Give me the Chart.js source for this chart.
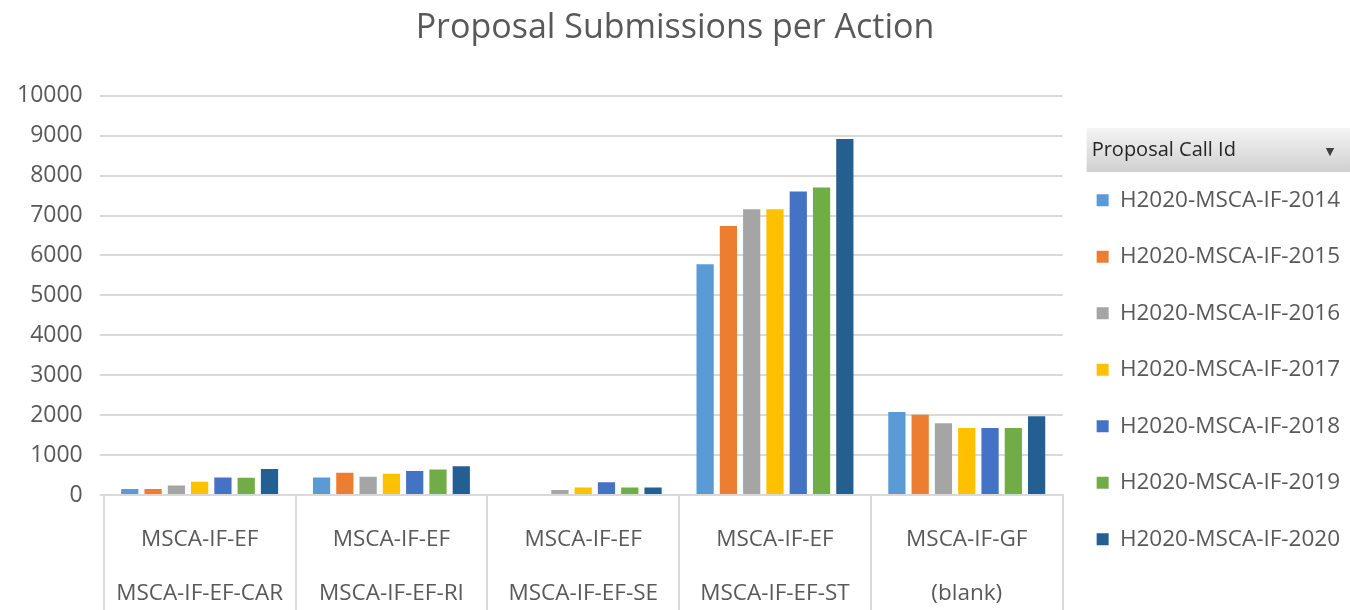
<!DOCTYPE html>
<html>
<head>
<meta charset="utf-8">
<script src="https://cdn.jsdelivr.net/npm/chart.js"></script>
<style>
  html, body { margin: 0; padding: 0; background: #ffffff; }
  #wrap { width: 1350px; height: 610px; position: relative; }
</style>
</head>
<body>
<div id="wrap"><canvas id="myChart"></canvas></div>
<script>
// categorias (dos lineas cada una)
const acciones = [
  ['MSCA-IF-EF', 'MSCA-IF-EF-CAR'],
  ['MSCA-IF-EF', 'MSCA-IF-EF-RI'],
  ['MSCA-IF-EF', 'MSCA-IF-EF-SE'],
  ['MSCA-IF-EF', 'MSCA-IF-EF-ST'],
  ['MSCA-IF-GF', '(blank)']
];

const convocatorias = [
  'H2020-MSCA-IF-2014', 'H2020-MSCA-IF-2015', 'H2020-MSCA-IF-2016',
  'H2020-MSCA-IF-2017', 'H2020-MSCA-IF-2018', 'H2020-MSCA-IF-2019',
  'H2020-MSCA-IF-2020'
];

// valores
const v2014 = [150, 440, 0, 5780, 2080];
const v2015 = [150, 560, 0, 6740, 2010];
const v2016 = [240, 460, 125, 7160, 1800];
const v2017 = [330, 530, 185, 7160, 1680];
const v2018 = [440, 600, 320, 7600, 1680];
const v2019 = [430, 640, 190, 7700, 1680];
const v2020 = [650, 720, 190, 8920, 1970];

const yTicks = [0, 1000, 2000, 3000, 4000, 5000, 6000, 7000, 8000, 9000, 10000];

const colores = ['#5b9bd5', '#ed7d31', '#a5a5a5', '#ffc000', '#4472c4', '#70ad47', '#255e91'];
const series = [v2014, v2015, v2016, v2017, v2018, v2019, v2020];

const tituloLeyenda = 'Proposal Call Id';

const FUENTE = "'Open Sans', 'DejaVu Sans', sans-serif";
const GRIS = '#595959';

// encabezado gris de la leyenda (como el filtro de la tabla dinamica de Excel)
const encabezadoLeyenda = {
  id: 'encabezadoLeyenda',
  beforeDraw(chart) {
    const lg = chart.legend;
    if (!lg || !lg.legendHitBoxes.length) return;
    const ctx = chart.ctx;
    const x0 = lg.legendHitBoxes[0].left - 10;
    const x1 = chart.width;
    const yc = lg.legendHitBoxes[0].top - 39;
    const y0 = yc - 22, y1 = yc + 22;
    const grad = ctx.createLinearGradient(0, y0, 0, y1);
    grad.addColorStop(0, '#f4f4f4');
    grad.addColorStop(1, '#d0d0d0');
    ctx.save();
    ctx.fillStyle = grad;
    ctx.fillRect(x0, y0, x1 - x0, y1 - y0);
    ctx.fillStyle = '#262626';
    ctx.font = '20px ' + FUENTE;
    ctx.textAlign = 'left';
    ctx.textBaseline = 'middle';
    ctx.fillText(tituloLeyenda, x0 + 5, yc);
    ctx.font = '11px ' + FUENTE;
    ctx.fillStyle = '#404040';
    ctx.textAlign = 'center';
    ctx.fillText('\u25BC', x1 - 20, yc + 2);
    ctx.restore();
  }
};

const data = {
  labels: acciones,
  datasets: convocatorias.map((nombre, i) => ({
    label: nombre,
    data: series[i],
    backgroundColor: colores[i],
    borderWidth: 0,
    categoryPercentage: 0.85,
    barPercentage: 0.74
  }))
};

const config = {
  type: 'bar',
  data: data,
  options: {
    responsive: true,
    maintainAspectRatio: false,
    animation: false,
    layout: { padding: { left: 0, right: 0, top: 0, bottom: 0 } },
    plugins: {
      title: {
        display: true,
        text: 'Proposal Submissions per Action',
        color: GRIS,
        font: { family: FUENTE, size: 34, weight: 'normal' },
        padding: { top: 8, bottom: 47 }
      },
      legend: {
        position: 'right',
        align: 'start',
        // el titulo solo reserva el espacio; el texto lo pinta el plugin
        title: {
          display: true,
          text: '',
          font: { family: FUENTE, size: 20 },
          padding: { top: 137, bottom: -6 }
        },
        labels: {
          boxWidth: 12,
          boxHeight: 12,
          padding: 34,
          color: GRIS,
          font: { family: FUENTE, size: 22.5 }
        }
      },
      tooltip: { enabled: false }
    },
    scales: {
      x: {
        grid: {
          offset: true,
          drawOnChartArea: false,
          tickLength: 115,
          color: '#d9d9d9',
          lineWidth: 2
        },
        border: { color: '#d9d9d9', width: 2 },
        ticks: {
          color: GRIS,
          padding: -97,
          maxRotation: 0,
          font: { family: FUENTE, size: 22.5, lineHeight: 2.4 }
        },
        afterFit: function (scale) { scale.height = 115; }
      },
      y: {
        min: 0,
        max: 10000,
        afterBuildTicks: function (scale) {
          scale.ticks = yTicks.map(v => ({ value: v }));
        },
        grid: {
          color: '#d9d9d9',
          lineWidth: 2,
          drawTicks: true,
          tickLength: 4
        },
        border: { display: false },
        ticks: {
          color: GRIS,
          padding: 17,
          font: { family: FUENTE, size: 23 },
          callback: function (v) { return String(v); }
        }
      }
    }
  },
  plugins: [encabezadoLeyenda]
};

const myChart = new Chart(document.getElementById('myChart'), config);
</script>
</body>
</html>
